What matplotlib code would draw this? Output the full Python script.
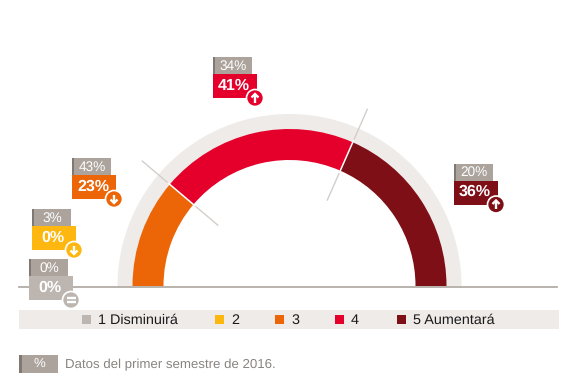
import matplotlib
matplotlib.use("Agg")
import numpy as np
import matplotlib.pyplot as plt
from matplotlib.patches import Wedge, Rectangle, Circle

plt.rcParams["font.family"] = ["Liberation Sans", "DejaVu Sans"]
plt.rcParams["text.hinting"] = "no_hinting"

# data
categorias = ["1 Disminuirá", "2", "3", "4", "5 Aumentará"]
colores = ["#bdb6b0", "#fdb70f", "#ec6608", "#e4002b", "#7f0f17"]
valores = [0, 0, 23, 41, 36]
previos = [0, 3, 43, 34, 20]
# share of the half circle as drawn in the picture
arcos = [0, 0, 22.4, 40.8, 36.8]
flechas = ["igual", "baja", "baja", "sube", "sube"]

# top-left corner of each label, in pixels
pos_etiquetas = [(29, 259), (32, 209), (72, 158), (213, 57), (454, 163.5)]
pos_leyenda = [86, 219, 279, 339, 401]

gris = "#aba39c"
gris_osc = "#7f7873"
fondo = "#efebe9"
cx, cy = 289.5, 286

fig = plt.figure(figsize=(5.85, 3.87), dpi=100)
ax = fig.add_axes([0, 0, 1, 1])
ax.set_xlim(0, 585)
ax.set_ylim(387, 0)
ax.axis("off")

# background ring (y axis is inverted, so angles are mirrored)
ax.add_patch(Wedge((cx, cy), 172, 180, 360, width=16, fc=fondo, ec="none", zorder=1))

# gauge segments, going clockwise from the left
ang = 180.0
cortes = []
for v, c in zip(arcos, colores):
    paso = v * 180.0 / sum(arcos)
    if v > 0:
        ax.add_patch(Wedge((cx, cy), 157, -ang, -(ang - paso), width=31, fc=c, ec="none", zorder=2))
    ang -= paso
    cortes.append(ang)

# separators: grey outside the coloured band, white across it
for a in cortes[2:4]:
    dx, dy = np.cos(np.deg2rad(a)), np.sin(np.deg2rad(a))
    ax.plot([cx + 94 * dx, cx + 193 * dx], [cy - 94 * dy, cy - 193 * dy], color="#d3cecb", lw=1, zorder=1.5)
    ax.plot([cx + 124 * dx, cx + 159 * dx], [cy - 124 * dy, cy - 159 * dy], color="white", lw=1.1, zorder=3)

# baseline
ax.plot([19, 557], [286.5, 286.5], color="#ada59e", lw=1.2, zorder=4)


def dibuja_simbolo(x, y, tipo):
    kw = dict(color="white", lw=1.7, zorder=8, solid_capstyle="butt", solid_joinstyle="miter")
    if tipo == "igual":
        ax.plot([x - 4.5, x + 4.5], [y - 2, y - 2], **kw)
        ax.plot([x - 4.5, x + 4.5], [y + 2, y + 2], **kw)
        return
    s = 1 if tipo == "baja" else -1
    ax.plot([x, x], [y - 4.5 * s, y + 4 * s], **kw)
    ax.plot([x - 3.5, x, x + 3.5], [y + 0.5 * s, y + 4 * s, y + 0.5 * s], **kw)


# value labels
for (x, y), v, p, c, f in zip(pos_etiquetas, valores, previos, colores, flechas):
    ax.add_patch(Rectangle((x, y), 38.5, 17, fc=gris, ec="none", zorder=5))
    ax.add_patch(Rectangle((x, y), 2, 17, fc=gris_osc, ec="none", zorder=5))
    ax.text(x + 20, y + 8.8, f"{p}%", color="white", fontsize=9.8, ha="center", va="center", zorder=6)
    ax.add_patch(Rectangle((x, y + 17), 43.5, 24, fc=c, ec="none", zorder=5))
    ax.text(x + 21, y + 28.5, f"{v}%", color="white", fontsize=11.5, fontweight="bold",
            ha="center", va="center", zorder=6)
    ax.add_patch(Circle((x + 42, y + 41), 8.5, fc=c, ec="white", lw=1.2, zorder=7))
    dibuja_simbolo(x + 42, y + 41, f)

# legend strip
ax.add_patch(Rectangle((19, 310), 540, 19, fc=fondo, ec="none", zorder=1))
for x, nombre, c in zip(pos_leyenda, categorias, colores):
    ax.add_patch(Rectangle((x - 4.5, 315), 9, 9, fc=c, ec="none", zorder=2))
    ax.text(x + 12, 320, nombre, color="#1a1a1a", fontsize=10.35, ha="left", va="center", zorder=3)

# footer
ax.add_patch(Rectangle((19, 355), 39, 18, fc=gris, ec="none"))
ax.add_patch(Rectangle((19, 355), 2.5, 18, fc=gris_osc, ec="none"))
ax.text(39, 364, "%", color="white", fontsize=9.5, ha="center", va="center")
ax.text(65, 364.5, "Datos del primer semestre de 2016.", color="#8a837e", fontsize=9.5, ha="left", va="center")

fig.savefig("out.png", dpi=100)
